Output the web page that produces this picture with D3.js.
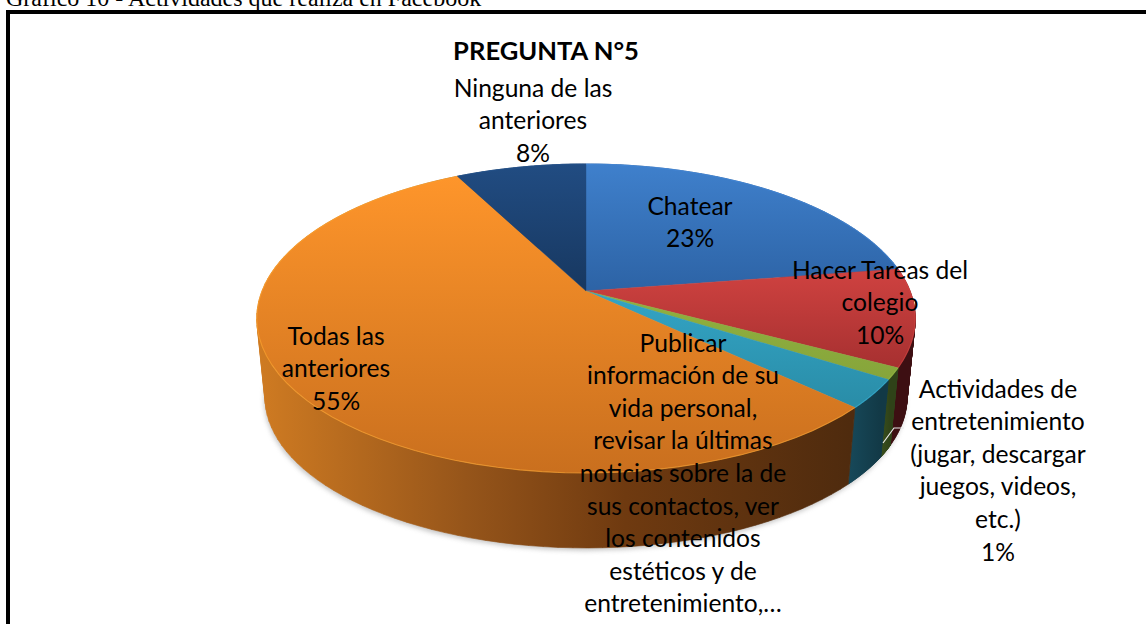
<!DOCTYPE html>
<html><head><meta charset="utf-8">
<script src="https://cdn.jsdelivr.net/npm/d3@7"></script>
<style>html,body{margin:0;padding:0;background:#fff;overflow:hidden}svg{display:block}</style>
</head><body><svg id="c" width="1146" height="624"></svg>
<script>
const categories = ["Chatear","Hacer Tareas del colegio","Actividades de entretenimiento","Publicar información","Todas las anteriores","Ninguna de las anteriores"];
const values = [22.6,10.2,1.2,3,55.4,7.6];
const topStops = [["#3f80cc","#2c62a4"],["#cf4240","#992a2b"],["#93b43f","#84a23a"],["#35a9cb","#2a8ea9"],["#ff962b","#c96f1e"],["#214c82","#17375f"]];
const sideStops = [["#1d4068","#1d4068"],["#3d0f12","#5a1618"],["#2f4218","#3a4f1c"],["#123946","#17495a"],["#cc7a22","#4f2b0e"],["#1c3a60","#1c3a60"]];
const titleText = "PREGUNTA N°5";
const captionText = "Gráfico 10 - Actividades que realiza en Facebook";
const labelLines = [
 {x:690,y:206,lines:["Chatear","23%"]},
 {x:880,y:270,lines:["Hacer Tareas del","colegio","10%"]},
 {x:998,y:389,lines:["Actividades de","entretenimiento","(jugar, descargar","juegos, videos,","etc.)","1%"]},
 {x:683,y:343,lines:["Publicar","información de su","vida personal,","revisar la últimas","noticias sobre la de","sus contactos, ver","los contenidos","estéticos y de","entretenimiento,…"]},
 {x:336,y:336,lines:["Todas las","anteriores","55%"]},
 {x:533,y:88,lines:["Ninguna de las","anteriores","8%"]}
];
const svg = d3.select("#c");
const defs = svg.append("defs");
// perspective projection of the unit disc
const ax=586, ay=291, A=324, B=149.6, k=0.178;
const topPt = t => { const u=Math.sin(t), v=-Math.cos(t), w=1-k*v; return [ax+A*u/w, ay+B*v/w]; };
const botPt = t => { const p=topPt(t); return [ax+(p[0]-ax)*0.975, ay+(p[1]-ay)*0.975+79.5]; };
const pie = d3.pie().sort(null).value(d=>d)(values);
const samples = (a,b,n=60) => d3.range(0,n+1).map(i=>a+(b-a)*i/n);
const line = d3.line();
const wallPath = d => {
  const t=samples(d.startAngle,d.endAngle,90); let out="";
  for(let i=0;i<t.length-1;i++){
    let q=[topPt(t[i]),topPt(t[i+1]),botPt(t[i+1]),botPt(t[i])];
    if(d3.polygonArea(q)<0) q=q.reverse();
    out+=line(q)+"Z";
  }
  return out;
};

defs.append("filter").attr("id","blur").attr("x","-10%").attr("y","-10%").attr("width","120%").attr("height","120%")
  .append("feGaussianBlur").attr("stdDeviation",2.5);
// soft shadow below the disc
svg.append("path").attr("d",line(samples(0,2*Math.PI).map(botPt).map(p=>[p[0]-1,p[1]+2.5])))
  .attr("fill","#888").attr("opacity",0.5).attr("filter","url(#blur)");

pie.forEach((d,i)=>{
  const g=defs.append("linearGradient").attr("id","top"+i).attr("gradientUnits","userSpaceOnUse").attr("x1",0).attr("x2",0);
  g.attr("y1",i===1||i===2||i===3?270:(i===4?170:164)).attr("y2",i===0||i===5?295:(i===4?475:400));
  g.append("stop").attr("offset",0).attr("stop-color",topStops[i][0]);
  g.append("stop").attr("offset",1).attr("stop-color",topStops[i][1]);
  const s=defs.append("linearGradient").attr("id","side"+i).attr("gradientUnits","userSpaceOnUse").attr("y1",0).attr("y2",0);
  if(i===4){ s.attr("x1",258).attr("x2",850);
    [[0,"#cf7b22"],[0.35,"#96551a"],[0.62,"#6f3a10"],[1,"#4f2b0e"]].forEach(q=>s.append("stop").attr("offset",q[0]).attr("stop-color",q[1]));
  } else { const a=botPt(d.startAngle), b=botPt(d.endAngle); s.attr("x1",Math.min(a[0],b[0])).attr("x2",Math.max(a[0],b[0]));
    s.append("stop").attr("offset",0).attr("stop-color",sideStops[i][1]);
    s.append("stop").attr("offset",1).attr("stop-color",sideStops[i][0]);
  }
});
// outer walls
svg.append("g").selectAll("path").data(pie).join("path")
  .attr("d",wallPath)
  .attr("fill",(d,i)=>`url(#side${i})`).attr("fill-rule","nonzero").attr("stroke",(d,i)=>`url(#side${i})`).attr("stroke-width",0.6);
// top faces
svg.append("g").selectAll("path").data(pie).join("path")
  .attr("d",d=>line([[ax,ay]].concat(samples(d.startAngle,d.endAngle).map(topPt)))+"Z")
  .attr("fill",(d,i)=>`url(#top${i})`).attr("stroke",(d,i)=>`url(#top${i})`).attr("stroke-width",0.4);
// light bevel on the front rim
svg.append("g").selectAll("path").data(pie).join("path")
  .attr("d",d=>line(samples(d.startAngle,d.endAngle).map(topPt)))
  .attr("fill","none").attr("stroke",(d,i)=>d3.color(topStops[i][0]).brighter(0.3)).attr("stroke-width",1.1).attr("opacity",0.6);
// leader line of the small slice
svg.append("path").attr("d",line([[883,443],[894,428],[904,428]])).attr("fill","none").attr("stroke","#e8e8e8").attr("stroke-width",1.2);
// labels
const fam="Lato, Carlito, sans-serif";
const lg=svg.append("g").attr("font-family",fam).attr("font-size",24.6).attr("fill","#000").attr("text-anchor","middle");
labelLines.forEach(l=>l.lines.forEach((t,j)=>lg.append("text").attr("x",l.x).attr("y",l.y+j*32.6).attr("dy","0.35em").text(t)));
svg.append("text").attr("x",546).attr("y",51).attr("dy","0.35em").attr("text-anchor","middle").attr("font-family",fam).attr("font-weight",700).attr("font-size",25.6).text(titleText);
// caption and document frame
svg.append("text").attr("x",6).attr("y",6).attr("font-family","'Liberation Serif',serif").attr("font-size",24).text(captionText);
svg.append("path").attr("d","M8,624V12H1146").attr("fill","none").attr("stroke","#000").attr("stroke-width",4);
</script></body></html>
